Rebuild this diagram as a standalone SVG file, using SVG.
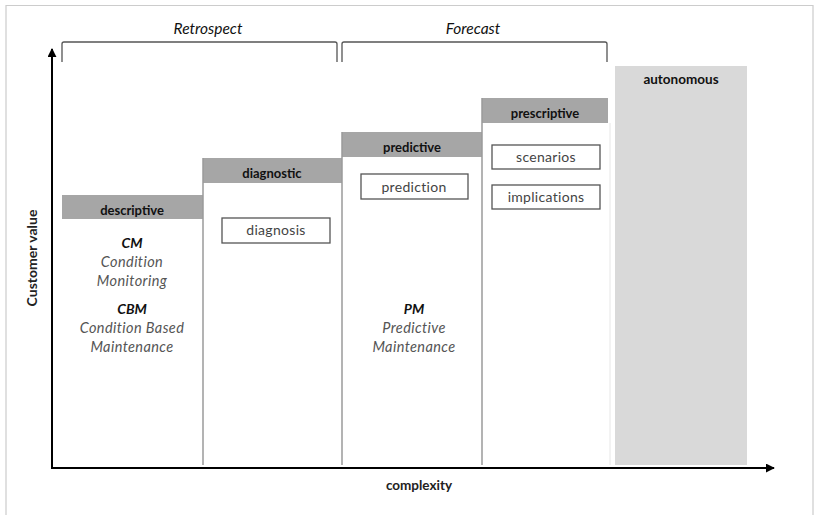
<svg xmlns="http://www.w3.org/2000/svg" width="816" height="515" viewBox="0 0 816 515">
<defs>
<marker id="arr" viewBox="0 0 10 10" refX="9" refY="5" markerWidth="4.5" markerHeight="4.5" orient="auto" markerUnits="strokeWidth">
<path d="M0,0 L10,5 L0,10 Z" fill="#000"/>
</marker>
<style>
text{font-family:Lato,"Open Sans","Liberation Sans",sans-serif;text-anchor:middle}
.hd{fill:#a6a6a6}
.hdt{font-size:13px;font-weight:bold;fill:#111}
.sep{stroke:#9a9a9a;stroke-width:1.5;fill:none}
.box{fill:#fff;stroke:#555;stroke-width:1.3}
.bt{font-size:14px;fill:#444;letter-spacing:0.3px}
.ab{font-size:14px;font-weight:bold;font-style:italic;fill:#111}
.it{font-size:14.5px;font-style:italic;fill:#555;letter-spacing:0.4px}
.brk{fill:none;stroke:#555;stroke-width:1.3}
.bl{font-size:15.5px;font-style:italic;fill:#111}
</style>
</defs>
<rect x="0" y="0" width="816" height="515" fill="#fff"/>
<path d="M6,515 V5.5 H813 V515" fill="none" stroke="#ccc" stroke-width="1.2"/>

<g id="retrospect">
<path class="brk" d="M62,62 V44 Q62,42 64,42 H335 Q337,42 337,44 V62"/>
<text class="bl" x="208" y="34">Retrospect</text>
</g>
<g id="forecast">
<path class="brk" d="M342,62 V44 Q342,42 344,42 H605 Q607,42 607,44 V62"/>
<text class="bl" x="473" y="34">Forecast</text>
</g>

<g id="autonomous">
<rect x="615" y="66" width="132" height="399" fill="#d9d9d9"/>
<text class="hdt" x="681" y="84" style="font-size:13.5px">autonomous</text>
</g>

<g id="descriptive">
<rect class="hd" x="62" y="195" width="141" height="24"/>
<text class="hdt" x="132" y="215">descriptive</text>
<text class="ab" x="132" y="248">CM</text>
<text class="it" x="132" y="267">Condition</text>
<text class="it" x="132" y="286">Monitoring</text>
<text class="ab" x="132" y="314">CBM</text>
<text class="it" x="132" y="333">Condition Based</text>
<text class="it" x="132" y="352">Maintenance</text>
</g>

<g id="diagnostic">
<rect class="hd" x="203" y="158" width="139" height="25"/>
<text class="hdt" x="272" y="178">diagnostic</text>
<line class="sep" x1="203" y1="158" x2="203" y2="465"/>
</g>
<g id="diagnosis">
<rect class="box" x="222" y="218" width="108" height="25"/>
<text class="bt" x="276" y="235">diagnosis</text>
</g>

<g id="predictive">
<rect class="hd" x="342" y="132" width="140" height="25"/>
<text class="hdt" x="412" y="152">predictive</text>
<line class="sep" x1="342" y1="132" x2="342" y2="465"/>
<text class="ab" x="414" y="314">PM</text>
<text class="it" x="414" y="333">Predictive</text>
<text class="it" x="414" y="352">Maintenance</text>
</g>
<g id="prediction">
<rect class="box" x="361" y="174" width="107" height="25"/>
<text class="bt" x="414" y="192">prediction</text>
</g>

<g id="prescriptive">
<rect class="hd" x="482" y="98" width="126" height="25"/>
<text class="hdt" x="545" y="118">prescriptive</text>
<line class="sep" x1="482" y1="98" x2="482" y2="465"/>
<line x1="610" y1="123" x2="610" y2="465" stroke="#e6e6e6" stroke-width="1"/>
</g>
<g id="scenarios">
<rect class="box" x="492" y="145" width="108" height="24"/>
<text class="bt" x="546" y="162">scenarios</text>
</g>
<g id="implications">
<rect class="box" x="492" y="185" width="108" height="24"/>
<text class="bt" x="546" y="202">implications</text>
</g>

<g id="connectors">
<line x1="52" y1="468" x2="52" y2="49" stroke="#000" stroke-width="2" marker-end="url(#arr)"/>
<line x1="51" y1="468" x2="774" y2="468" stroke="#000" stroke-width="2" marker-end="url(#arr)"/>
</g>

<text x="37" y="258" transform="rotate(-90 37 258)" style="font-size:14px;font-weight:bold;fill:#222">Customer value</text>
<text x="419" y="490" style="font-size:13.5px;font-weight:bold;fill:#222">complexity</text>
</svg>
